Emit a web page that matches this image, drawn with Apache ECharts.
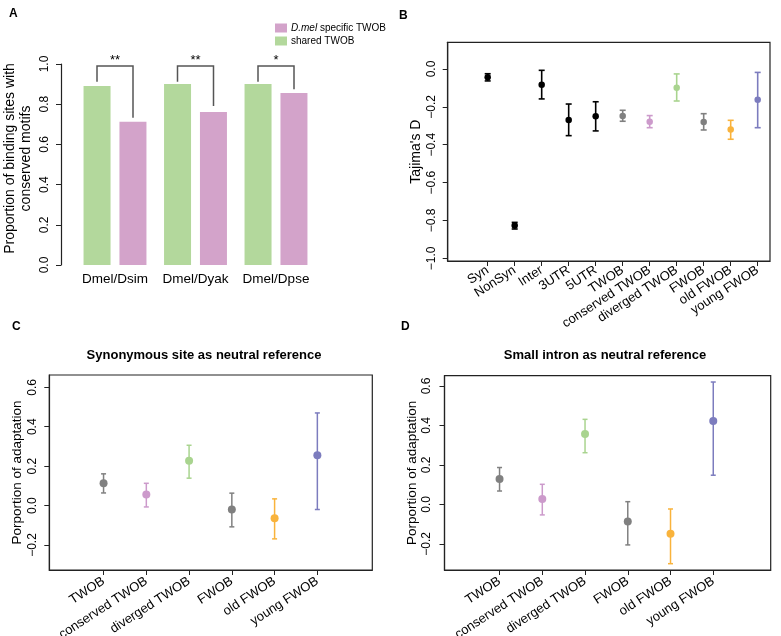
<!DOCTYPE html>
<html><head><meta charset="utf-8">
<script src="https://cdn.jsdelivr.net/npm/echarts@6/dist/echarts.min.js"></script>
<style>html,body{margin:0;padding:0;background:#fff}#c{width:781px;height:636px}</style>
</head><body><div id="c"></div><script>
// ---------- Panel A data ----------
const aCategories = ['Dmel/Dsim', 'Dmel/Dyak', 'Dmel/Dpse'];
const aShared = [0.89, 0.90, 0.90];
const aSpecific = [0.713, 0.761, 0.856];
const aStars = ['**', '**', '*'];
const aBracketTop = [0.99, 0.99, 0.99];
const aBracketLeftEnd = [0.912, 0.912, 0.912];
const aBracketRightEnd = [0.733, 0.791, 0.874];
const aTicks = [0, 0.2, 0.4, 0.6, 0.8, 1.0];

// ---------- Panel B data ----------
const bCategories = ['Syn', 'NonSyn', 'Inter', '3UTR', '5UTR', 'TWOB', 'conserved TWOB', 'diverged TWOB', 'FWOB', 'old FWOB', 'young FWOB'];
const bMean = [-0.044, -0.827, -0.083, -0.269, -0.250, -0.248, -0.278, -0.099, -0.280, -0.320, -0.162];
const bLow  = [-0.063, -0.845, -0.158, -0.352, -0.327, -0.276, -0.310, -0.169, -0.322, -0.371, -0.310];
const bHigh = [-0.025, -0.810, -0.007, -0.185, -0.173, -0.218, -0.246, -0.026, -0.236, -0.271, -0.018];
const bTicks = [0.0, -0.2, -0.4, -0.6, -0.8, -1.0];

// ---------- Panels C / D data ----------
const cdCategories = ['TWOB', 'conserved TWOB', 'diverged TWOB', 'FWOB', 'old FWOB', 'young FWOB'];
const cMean = [0.113, 0.056, 0.228, -0.020, -0.064, 0.255];
const cLow  = [0.064, -0.007, 0.139, -0.108, -0.169, -0.020];
const cHigh = [0.161, 0.113, 0.306, 0.063, 0.034, 0.470];
const dMean = [0.129, 0.028, 0.357, -0.087, -0.149, 0.423];
const dLow  = [0.068, -0.053, 0.262, -0.205, -0.300, 0.148];
const dHigh = [0.187, 0.102, 0.431, 0.014, -0.023, 0.620];
const cdTicks = [-0.2, 0.0, 0.2, 0.4, 0.6];

// ---------- styles ----------
const FONT = "'Liberation Sans', Arial, Helvetica, sans-serif";
const GREEN_BAR = '#B3D89C', PINK_BAR = '#D3A3CA';
const GRAY = '#808080', PINK = '#CC9ACB', GREEN = '#A9D48F', ORANGE = '#F9B33C', BLUE = '#7C7CBE';
const bColors = ['#000', '#000', '#000', '#000', '#000', GRAY, PINK, GREEN, GRAY, ORANGE, BLUE];
const cdColors = [GRAY, PINK, GREEN, GRAY, ORANGE, BLUE];

const fmt = v => (v < 0 ? '\u2212' : '') + Math.abs(v).toFixed(1);

function errRender(colors, cap, lw) {
  return function (params, api) {
    const x = api.value(0), lo = api.value(1), hi = api.value(2);
    const p1 = api.coord([x, lo]), p2 = api.coord([x, hi]);
    const style = { stroke: colors[params.dataIndex], lineWidth: lw };
    return { type: 'group', children: [
      { type: 'line', shape: { x1: p1[0], y1: p1[1], x2: p2[0], y2: p2[1] }, style },
      { type: 'line', shape: { x1: p1[0] - cap, y1: p1[1], x2: p1[0] + cap, y2: p1[1] }, style },
      { type: 'line', shape: { x1: p2[0] - cap, y1: p2[1], x2: p2[0] + cap, y2: p2[1] }, style }
    ]};
  };
}

function bracketRender(params, api) {
  const i = api.value(0);
  const top = api.coord([i, api.value(3)]);
  const l = api.coord([i, api.value(1)]);
  const r = api.coord([i, api.value(2)]);
  const dx = 18;
  return { type: 'group', children: [
    { type: 'polyline', shape: { points: [[top[0] - dx, l[1]], [top[0] - dx, top[1]], [top[0] + dx, top[1]], [top[0] + dx, r[1]]] },
      style: { stroke: '#555', lineWidth: 1.5, fill: null } },
    { type: 'text', x: top[0], y: top[1] + 1,
      style: { text: aStars[params.dataIndex], font: '13px ' + FONT, fill: '#000', align: 'center', verticalAlign: 'bottom' } }
  ]};
}

const txt = { fontFamily: FONT, color: '#000' };
const boxGrid = { show: true, borderColor: '#222', borderWidth: 1.2, backgroundColor: 'transparent' };
const noBounds = { outerBoundsMode: 'none', containLabel: false };

function valueX(grid, min, max, cats, values, margin) {
  return {
    type: 'value', gridIndex: grid, min, max,
    splitLine: { show: false },
    axisLine: { show: true, onZero: false, lineStyle: { color: '#222', width: 1.2 } },
    axisTick: { show: true, length: 5, customValues: values, lineStyle: { color: '#222' } },
    axisLabel: { ...txt, fontSize: 13, rotate: 33, margin, customValues: values,
      formatter: v => cats[Math.round(v) - 1] }
  };
}
function valueY(grid, min, max, ticks, name, gap, margin, nameSize) {
  return {
    type: 'value', gridIndex: grid, min, max,
    splitLine: { show: false },
    axisLine: { show: true, onZero: false, lineStyle: { color: '#222', width: 1.2 } },
    axisTick: { show: true, length: 5, customValues: ticks, lineStyle: { color: '#222' } },
    axisLabel: { ...txt, fontSize: 12, rotate: 90, margin, customValues: ticks, formatter: fmt },
    name, nameLocation: 'middle', nameRotate: 90, nameGap: gap, nameMoveOverlap: false,
    nameTextStyle: { ...txt, fontSize: nameSize }
  };
}

const idx1 = arr => arr.map((_, i) => i + 1);
const bX = idx1(bCategories), cdX = idx1(cdCategories);

const option = {
  animation: false,
  backgroundColor: '#fff',
  textStyle: { fontFamily: FONT },
  title: [
    { text: 'A', left: 9, top: 8, textStyle: { ...txt, fontSize: 12, fontWeight: 'bold' }, padding: 0 },
    { text: 'B', left: 399, top: 10, textStyle: { ...txt, fontSize: 12, fontWeight: 'bold' }, padding: 0 },
    { text: 'C', left: 12, top: 321, textStyle: { ...txt, fontSize: 12, fontWeight: 'bold' }, padding: 0 },
    { text: 'D', left: 401, top: 321, textStyle: { ...txt, fontSize: 12, fontWeight: 'bold' }, padding: 0 },
    { text: 'Synonymous site as neutral reference', left: 204, top: 349, textAlign: 'center', padding: 0,
      textStyle: { ...txt, fontSize: 13, fontWeight: 'bold' } },
    { text: 'Small intron as neutral reference', left: 605, top: 349, textAlign: 'center', padding: 0,
      textStyle: { ...txt, fontSize: 13, fontWeight: 'bold' } }
  ],
  legend: {
    data: ['D.mel specific TWOB', 'shared TWOB'],
    orient: 'vertical', left: 275, top: 23, padding: 0,
    itemWidth: 12, itemHeight: 9, itemGap: 3, icon: 'rect', selectedMode: false,
    formatter: n => n === 'D.mel specific TWOB' ? '{i|D.mel} specific TWOB' : n,
    textStyle: { ...txt, fontSize: 10, padding: [0, 0, 0, -1], rich: { i: { fontStyle: 'italic', fontSize: 10, fontFamily: FONT } } }
  },
  grid: [
    { left: 74.75, top: 64, width: 241.5, height: 201, ...noBounds },
    { left: 447.7, top: 42.3, width: 322.3, height: 218.7, ...boxGrid, ...noBounds },
    { left: 49.3, top: 375, width: 323, height: 195, ...boxGrid, ...noBounds },
    { left: 444.5, top: 375.7, width: 326.2, height: 194.3, ...boxGrid, ...noBounds }
  ],
  xAxis: [
    { type: 'category', gridIndex: 0, data: aCategories,
      axisLine: { show: false }, axisTick: { show: false },
      axisLabel: { ...txt, fontSize: 13.5, margin: 7, interval: 0 } },
    valueX(1, -0.481, 11.456, bCategories, bX, 8),
    valueX(2, -0.269, 7.285, cdCategories, cdX, 10),
    valueX(3, -0.288, 7.344, cdCategories, cdX, 10)
  ],
  yAxis: [
    { type: 'value', gridIndex: 0, min: 0, max: 1, interval: 0.2, offset: 13.75,
      splitLine: { show: false },
      axisLine: { show: true, lineStyle: { color: '#222', width: 1.2 } },
      axisTick: { show: true, length: 5, lineStyle: { color: '#222' } },
      axisLabel: { ...txt, fontSize: 12, rotate: 90, margin: 10, formatter: v => v.toFixed(1) },
      name: 'Proportion of binding sites with\nconserved motifs', nameLocation: 'middle', nameRotate: 90, nameGap: 27,
      nameMoveOverlap: false,
      nameTextStyle: { ...txt, fontSize: 14, lineHeight: 16, padding: [0, 0, 0, 12] } },
    valueY(1, -1.014, 0.141, bTicks, "Tajima's D", 25, 10, 14),
    valueY(2, -0.327, 0.6626, cdTicks, 'Porportion of adaptation', 25, 11, 13.5),
    valueY(3, -0.332, 0.652, cdTicks, 'Porportion of adaptation', 25, 11.5, 13.5)
  ],
  series: [
    { type: 'bar', name: 'shared TWOB', xAxisIndex: 0, yAxisIndex: 0, data: aShared,
      barWidth: 27, barGap: '33%', itemStyle: { color: GREEN_BAR } },
    { type: 'bar', name: 'D.mel specific TWOB', xAxisIndex: 0, yAxisIndex: 0, data: aSpecific,
      barWidth: 27, barGap: '33%', itemStyle: { color: PINK_BAR } },
    { type: 'custom', xAxisIndex: 0, yAxisIndex: 0, renderItem: bracketRender,
      data: aCategories.map((_, i) => [i, aBracketLeftEnd[i], aBracketRightEnd[i], aBracketTop[i]]), z: 5 },

    { type: 'custom', xAxisIndex: 1, yAxisIndex: 1, renderItem: errRender(bColors, 3, 1.6),
      encode: { x: 0, y: [1, 2] }, data: bX.map((x, i) => [x, bLow[i], bHigh[i]]) },
    { type: 'scatter', xAxisIndex: 1, yAxisIndex: 1, symbolSize: 6.5, z: 3,
      data: bX.map((x, i) => [x, bMean[i]]), itemStyle: { color: p => bColors[p.dataIndex], opacity: 1 } },

    { type: 'custom', xAxisIndex: 2, yAxisIndex: 2, renderItem: errRender(cdColors, 2.5, 1.5),
      encode: { x: 0, y: [1, 2] }, data: cdX.map((x, i) => [x, cLow[i], cHigh[i]]) },
    { type: 'scatter', xAxisIndex: 2, yAxisIndex: 2, symbolSize: 8, z: 3,
      data: cdX.map((x, i) => [x, cMean[i]]), itemStyle: { color: p => cdColors[p.dataIndex], opacity: 1 } },

    { type: 'custom', xAxisIndex: 3, yAxisIndex: 3, renderItem: errRender(cdColors, 2.5, 1.5),
      encode: { x: 0, y: [1, 2] }, data: cdX.map((x, i) => [x, dLow[i], dHigh[i]]) },
    { type: 'scatter', xAxisIndex: 3, yAxisIndex: 3, symbolSize: 8, z: 3,
      data: cdX.map((x, i) => [x, dMean[i]]), itemStyle: { color: p => cdColors[p.dataIndex], opacity: 1 } }
  ]
};

const chart = echarts.init(document.getElementById('c'), null, { renderer: 'canvas' });
chart.setOption(option);
</script></body></html>
